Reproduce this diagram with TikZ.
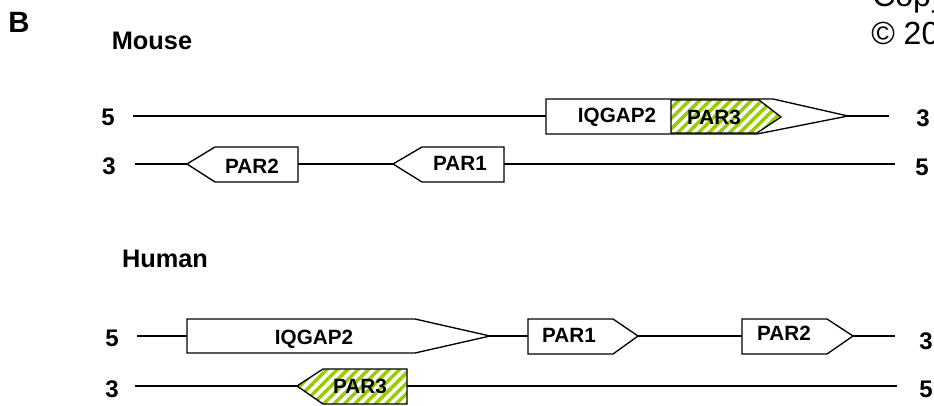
\documentclass[tikz,border=0pt]{standalone}
\usepackage{fontspec}
\setmainfont{Liberation Sans}
\usepackage{tikz}
\usetikzlibrary{patterns.meta}
\definecolor{hatchgreen}{RGB}{153,204,0}
\tikzset{
  gene/.style={draw,line width=1pt,fill=white},
  hatched/.style={draw,line width=1pt,preaction={fill=white},pattern={Lines[angle=45,distance=5.5pt,line width=2.6pt]},pattern color=hatchgreen},
  strand/.style={line width=1pt},
  genelbl/.style={inner sep=0pt,font=\fontsize{15.5}{18}\selectfont\bfseries},
  endlbl/.style={inner sep=0pt,font=\fontsize{18}{21}\selectfont\bfseries},
  species/.style={inner sep=0pt,anchor=base,font=\fontsize{19}{22}\selectfont\bfseries},
  note/.style={inner sep=0pt,anchor=base west,font=\fontsize{24}{28}\selectfont},
}

\begin{document}
\begin{tikzpicture}[x=0.75pt,y=-0.75pt]
    \useasboundingbox (0,0) rectangle (934,406);
    \node[inner sep=0pt,anchor=base,font=\fontsize{22}{26}\selectfont\bfseries] (panel) at (19,33) {B};
    \node[note] (copy1) at (872,7) {Copyright};
    \node[note] (copy2) at (871,45) {\textcopyright{} 20};
    \node[species] (mouse) at (152,50) {Mouse};
    \node[species] (human) at (165,267) {Human};

    \node[endlbl] (m5a) at (108,117) {5};
    \node[endlbl] (m3a) at (923,118) {3};
    \node[endlbl] (m3b) at (109,166) {3};
    \node[endlbl] (m5b) at (922,167) {5};
    \node[endlbl] (h5a) at (112,338) {5};
    \node[endlbl] (h3a) at (926,341) {3};
    \node[endlbl] (h3b) at (112,389) {3};
    \node[endlbl] (h5b) at (926,389) {5};

    \coordinate (m1l) at (133,116);
    \coordinate (m1r) at (889,116);
    \coordinate (m2l) at (135,164);
    \coordinate (m2r) at (895,164);
    \coordinate (h1l) at (137,336);
    \coordinate (h1r) at (895,336);
    \coordinate (h2l) at (135,386);
    \coordinate (h2r) at (897,386);
    \draw[strand] (m1l) -- (m1r);
    \draw[strand] (m2l) -- (m2r);
    \draw[strand] (h1l) -- (h1r);
    \draw[strand] (h2l) -- (h2r);

    \draw[gene] (546,99) -- (773,99) -- (848,116) -- (757,134) -- (546,134) -- cycle;
    \draw[hatched] (671,100) -- (759,100) -- (781,117) -- (757,133) -- (671,133) -- cycle;
    \draw[gene] (187,164) -- (215,147) -- (298,147) -- (298,182) -- (215,182) -- cycle;
    \draw[gene] (393,164) -- (422,147) -- (504,147) -- (504,182) -- (422,182) -- cycle;
    \draw[gene] (187,319) -- (415,319) -- (490,336) -- (415,353) -- (187,353) -- cycle;
    \draw[gene] (528,319) -- (613,319) -- (638,336) -- (613,354) -- (528,354) -- cycle;
    \draw[gene] (742,319) -- (827,319) -- (853,336) -- (827,354) -- (742,354) -- cycle;
    \draw[hatched] (297,386) -- (323,369) -- (407,369) -- (407,404) -- (323,404) -- cycle;

    \node[genelbl] (iqm) at (617,117) {IQGAP2};
    \node[genelbl] (par3m) at (714,117) {PAR3};
    \node[genelbl] (par2m) at (252,166) {PAR2};
    \node[genelbl] (par1m) at (460,163) {PAR1};
    \node[genelbl] (iqh) at (314,339) {IQGAP2};
    \node[genelbl] (par1h) at (569,335) {PAR1};
    \node[genelbl] (par2h) at (784,333) {PAR2};
    \node[genelbl] (par3h) at (360,386) {PAR3};
\end{tikzpicture}
\end{document}
